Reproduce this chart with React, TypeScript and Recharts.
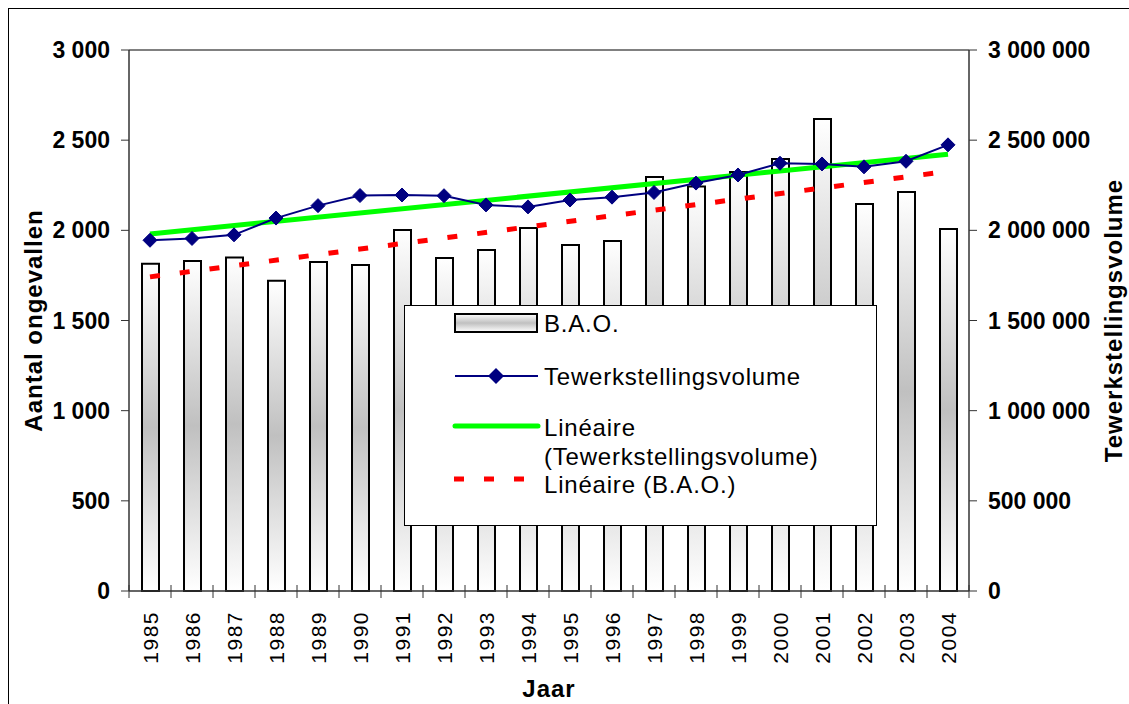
import React from 'react';
import { ComposedChart, Bar, Line, XAxis, YAxis, ReferenceLine } from 'recharts';

const years = ['1985', '1986', '1987', '1988', '1989', '1990', '1991', '1992', '1993', '1994', '1995', '1996', '1997', '1998', '1999', '2000', '2001', '2002', '2003', '2004'];
const baoValues = [1815, 1830, 1850, 1720, 1825, 1808, 2002, 1847, 1891, 2013, 1919, 1941, 2296, 2243, 2324, 2396, 2618, 2146, 2213, 2008];
const volumeValues = [1945000, 1955000, 1975000, 2068000, 2137000, 2193000, 2196000, 2192000, 2141000, 2130000, 2168000, 2184000, 2210000, 2262000, 2307000, 2372000, 2368000, 2352000, 2383000, 2474000];
const trendVolumeEnds = [1980000, 2422000];
const trendBaoEnds = [1742, 2327];
const leftTicks = [0, 500, 1000, 1500, 2000, 2500, 3000];
const rightTicks = [0, 500000, 1000000, 1500000, 2000000, 2500000, 3000000];

const data = years.map((year, i) => ({
  year,
  bao: baoValues[i],
  volume: volumeValues[i],
  trendVolume: i === 0 ? trendVolumeEnds[0] : i === years.length - 1 ? trendVolumeEnds[1] : null,
  trendBao: i === 0 ? trendBaoEnds[0] : i === years.length - 1 ? trendBaoEnds[1] : null,
}));

const FONT = '"Liberation Sans", Arial, sans-serif';
const CHART_W = 1120;
const CHART_H = 695;
const LEFT_W = 120;
const RIGHT_W = 160;
const TOP = 41;
const X_H = 113;
const PLOT_BOTTOM = CHART_H - X_H;
const BAND = (CHART_W - LEFT_W - RIGHT_W) / years.length;

const fmt = (v: number) => String(v).replace(/\B(?=(\d{3})+(?!\d))/g, ' ');

const XTick = (props: any) => {
  const { x, payload } = props;
  const idx = years.indexOf(String(payload.value));
  const y0 = PLOT_BOTTOM;
  const ty = y0 + 20;
  return (
    <g>
      <line x1={x - BAND / 2} x2={x - BAND / 2} y1={y0 - 6} y2={y0 + 7} stroke="#333" strokeWidth={1} />
      {idx === years.length - 1 && (
        <line x1={x + BAND / 2} x2={x + BAND / 2} y1={y0 - 6} y2={y0 + 7} stroke="#333" strokeWidth={1} />
      )}
      <text
        x={x}
        y={ty}
        transform={`rotate(-90 ${x} ${ty})`}
        textAnchor="end"
        dominantBaseline="central"
        fontSize={21}
        letterSpacing={1.5}
        fill="#000"
        fontFamily={FONT}
      >
        {payload.value}
      </text>
    </g>
  );
};

const Diamond = (props: any) => {
  const { cx, cy } = props;
  if (cx == null || cy == null) return null;
  const r = 7;
  return <polygon points={`${cx},${cy - r} ${cx + r},${cy} ${cx},${cy + r} ${cx - r},${cy}`} fill="#000080" stroke="#000080" />;
};

const legendItems = [
  { kind: 'bar', label: ['B.A.O.'], y: 17 },
  { kind: 'marker', label: ['Tewerkstellingsvolume'], y: 70 },
  { kind: 'green', label: ['Linéaire', '(Tewerkstellingsvolume)'], y: 121 },
  { kind: 'red', label: ['Linéaire (B.A.O.)'], y: 178 },
];

const LegendBox = () => (
  <div
    style={{
      position: 'absolute',
      left: 395,
      top: 296,
      width: 473,
      height: 221,
      border: '1px solid #000',
      background: '#fff',
      boxSizing: 'border-box',
    }}
  >
    <svg width={471} height={219} style={{ position: 'absolute', left: 0, top: 0 }}>
      <defs>
        <linearGradient id="legGrad" x1="0" y1="0" x2="0" y2="1">
          <stop offset="0%" stopColor="#ffffff" />
          <stop offset="50%" stopColor="#c0c0c0" />
          <stop offset="100%" stopColor="#ffffff" />
        </linearGradient>
      </defs>
      {legendItems.map((it) => (
        <g key={it.label[0] + it.y}>
          {it.kind === 'bar' && <rect x={50} y={it.y - 9} width={82} height={18} fill="url(#legGrad)" stroke="#000" strokeWidth={2} />}
          {it.kind === 'marker' && (
            <g>
              <line x1={50} x2={133} y1={it.y} y2={it.y} stroke="#000080" strokeWidth={2} />
              <polygon points={`91,${it.y - 8} 99,${it.y} 91,${it.y + 8} 83,${it.y}`} fill="#000080" />
            </g>
          )}
          {it.kind === 'green' && <line x1={50} x2={133} y1={it.y - 1} y2={it.y - 1} stroke="#00ff00" strokeWidth={5} strokeLinecap="round" />}
          {it.kind === 'red' && <line x1={49} x2={121} y1={it.y - 5} y2={it.y - 5} stroke="#ff0000" strokeWidth={5} strokeDasharray="10 20" />}
          {it.label.map((t, j) => (
            <text
              key={t}
              x={139}
              y={it.y + j * 29}
              dominantBaseline="central"
              fontSize={24}
              letterSpacing={0.8}
              fill="#000"
              fontFamily={FONT}
            >
              {t}
            </text>
          ))}
        </g>
      ))}
    </svg>
  </div>
);

const tickStyle = { fill: '#000', fontSize: 23, fontWeight: 'bold' as const, fontFamily: FONT };
const titleStyle = { fill: '#000', fontSize: 24, fontWeight: 'bold' as const, fontFamily: FONT, letterSpacing: 1, textAnchor: 'middle' as const };

export default function App() {
  return (
    <div
      style={{
        position: 'fixed',
        left: 8,
        top: 8,
        width: 1121,
        height: 696,
        borderTop: '1px solid #000',
        borderLeft: '1px solid #000',
        boxSizing: 'border-box',
        background: '#fff',
        fontFamily: FONT,
      }}
    >
      <ComposedChart
        width={CHART_W}
        height={CHART_H}
        data={data}
        margin={{ top: TOP, right: 0, bottom: 0, left: 0 }}
        barCategoryGap={0}
        style={{ fontFamily: FONT }}
      >
        <defs>
          <linearGradient id="barGrad" x1="0" y1="0" x2="0" y2="1">
            <stop offset="0%" stopColor="#ffffff" />
            <stop offset="50%" stopColor="#c0c0c0" />
            <stop offset="100%" stopColor="#ffffff" />
          </linearGradient>
        </defs>
        <XAxis
          dataKey="year"
          height={X_H}
          interval={0}
          tickLine={false}
          axisLine={{ stroke: '#333', strokeWidth: 1.5 }}
          tick={<XTick />}
          label={{ value: 'Jaar', position: 'insideBottom', offset: 7, style: titleStyle }}
        />
        <YAxis
          yAxisId="left"
          width={LEFT_W}
          domain={[0, 3000]}
          ticks={leftTicks}
          tickFormatter={fmt}
          tickSize={8}
          tickMargin={11}
          interval={0}
          axisLine={{ stroke: '#333', strokeWidth: 1.5 }}
          tickLine={{ stroke: '#333' }}
          tick={tickStyle}
          label={{ value: 'Aantal ongevallen', angle: -90, position: 'insideLeft', offset: 24, style: titleStyle }}
        />
        <YAxis
          yAxisId="right"
          orientation="right"
          width={RIGHT_W}
          domain={[0, 3000000]}
          ticks={rightTicks}
          tickFormatter={fmt}
          tickSize={8}
          tickMargin={11}
          interval={0}
          axisLine={{ stroke: '#333', strokeWidth: 1.5 }}
          tickLine={{ stroke: '#333' }}
          tick={tickStyle}
          label={{ value: 'Tewerkstellingsvolume', angle: -90, position: 'insideRight', offset: 16, style: titleStyle }}
        />
        <ReferenceLine yAxisId="left" y={3000} stroke="#808080" strokeWidth={2} />
        <Bar
          yAxisId="left"
          dataKey="bao"
          name="B.A.O."
          barSize={17}
          fill="url(#barGrad)"
          stroke="#000"
          strokeWidth={2}
          isAnimationActive={false}
        />
        <Line
          yAxisId="left"
          dataKey="trendBao"
          name="Linéaire (B.A.O.)"
          stroke="#ff0000"
          strokeWidth={5}
          strokeDasharray="10 20"
          dot={false}
          activeDot={false}
          connectNulls
          isAnimationActive={false}
        />
        <Line
          yAxisId="right"
          dataKey="trendVolume"
          name="Linéaire (Tewerkstellingsvolume)"
          stroke="#00ff00"
          strokeWidth={5}
          dot={false}
          activeDot={false}
          connectNulls
          isAnimationActive={false}
        />
        <Line
          yAxisId="right"
          dataKey="volume"
          name="Tewerkstellingsvolume"
          stroke="#000080"
          strokeWidth={2}
          dot={(p: any) => <Diamond key={`d-${p.index}`} {...p} />}
          activeDot={false}
          isAnimationActive={false}
        />
      </ComposedChart>
      <LegendBox />
    </div>
  );
}
